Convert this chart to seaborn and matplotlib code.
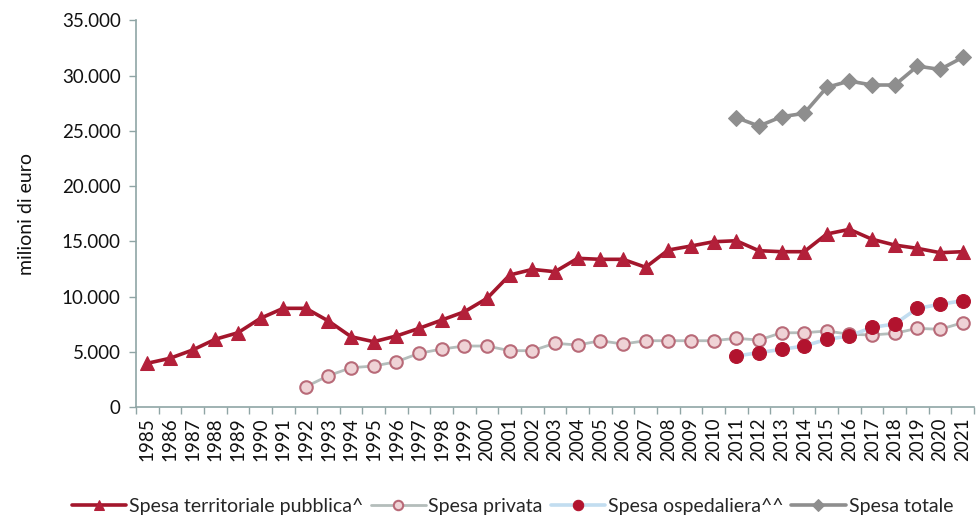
import matplotlib
matplotlib.use("Agg")
import matplotlib.pyplot as plt
import seaborn as sns
import numpy as np
import pandas as pd
from matplotlib.ticker import FuncFormatter, FixedLocator

years = list(range(1985, 2022))

territoriale = [3980, 4430, 5180, 6150, 6740, 8050, 8950, 8950, 7800, 6380,
                5930, 6450, 7140, 7890, 8640, 9850, 11960, 12470, 12260, 13470,
                13380, 13380, 12660, 14220, 14580, 14970, 15060, 14160, 14070, 14070,
                15670, 16090, 15190, 14670, 14370, 13980, 14070]

privata_years = list(range(1992, 2022))
privata = [1860, 2860, 3580, 3730, 4120, 4880, 5270, 5540, 5540, 5120,
           5120, 5790, 5630, 6020, 5720, 6020, 6020, 6020, 6020, 6240,
           6080, 6740, 6740, 6900, 6600, 6540, 6690, 7140, 7050, 7650]

recent_years = list(range(2011, 2022))
ospedaliera = [4640, 4940, 5240, 5540, 6150, 6450, 7230, 7530, 8950, 9310, 9640]
totale = [26200, 25430, 26270, 26580, 28930, 29500, 29140, 29140, 30850, 30550, 31640]

labels = ["Spesa territoriale pubblica^", "Spesa privata",
          "Spesa ospedaliera^^", "Spesa totale"]

sns.set_theme(style="white")
plt.rcParams['font.family'] = ['Lato', 'DejaVu Sans']

fig = plt.figure(figsize=(9.76, 5.18), dpi=100)
ax = fig.add_axes([0.1393, 0.2137, 0.8587, 0.7473])

df_t = pd.DataFrame({"anno": years, "valore": territoriale})
df_p = pd.DataFrame({"anno": privata_years, "valore": privata})
df_o = pd.DataFrame({"anno": recent_years, "valore": ospedaliera})
df_tot = pd.DataFrame({"anno": recent_years, "valore": totale})

sns.lineplot(data=df_t, x="anno", y="valore", ax=ax, color="#A3162C", lw=2.6,
             marker="^", markersize=10, markerfacecolor="#B3203A",
             markeredgecolor="#B3203A", label=labels[0], zorder=3)
sns.lineplot(data=df_p, x="anno", y="valore", ax=ax, color="#B4BDBB", lw=2.0,
             marker="o", markersize=9, markerfacecolor="#EFD3D6",
             markeredgecolor="#B86A78", markeredgewidth=1.5, label=labels[1], zorder=4)
sns.lineplot(data=df_o, x="anno", y="valore", ax=ax, color="#C2DDF0", lw=2.6,
             marker="o", markersize=10, markerfacecolor="#B2132E",
             markeredgecolor="#B2132E", label=labels[2], zorder=5)
sns.lineplot(data=df_tot, x="anno", y="valore", ax=ax, color="#8E8E8E", lw=2.6,
             marker="D", markersize=8, markerfacecolor="#8E8E8E",
             markeredgecolor="#8E8E8E", label=labels[3], zorder=3)

ax.set_xlim(1984.5, 2021.5)
ax.set_ylim(0, 35000)
ax.yaxis.set_major_locator(FixedLocator(np.arange(0, 35001, 5000)))
ax.yaxis.set_major_formatter(FuncFormatter(lambda v, p: f"{int(v):,}".replace(",", ".")))

ax.xaxis.set_major_locator(FixedLocator([y - 0.5 for y in years] + [years[-1] + 0.5]))
ax.xaxis.set_major_formatter(FuncFormatter(lambda v, p: ""))
ax.xaxis.set_minor_locator(FixedLocator(years))
ax.xaxis.set_minor_formatter(FuncFormatter(lambda v, p: str(int(round(v)))))

spine_col = "#8FA5A5"
for s in ["top", "right"]:
    ax.spines[s].set_visible(False)
for s in ["left", "bottom"]:
    ax.spines[s].set_color(spine_col)
    ax.spines[s].set_linewidth(1.2)

ax.tick_params(axis="y", which="major", direction="out", length=5, width=1,
               color=spine_col, labelsize=13.5, labelcolor="#111111", pad=6, left=True)
ax.tick_params(axis="x", which="major", direction="out", length=5, width=1,
               color=spine_col, bottom=True)
ax.tick_params(axis="x", which="minor", length=0, labelsize=13.5, labelcolor="#111111",
               labelrotation=90, pad=7, bottom=True)

ax.set_xlabel("")
ax.set_ylabel("milioni di euro", fontsize=14, color="#111111", labelpad=19)
ax.grid(False)

handles, labs = ax.get_legend_handles_labels()
ax.legend(handles, labs, loc="center", bbox_to_anchor=(0.525, 0.022),
          bbox_transform=fig.transFigure, ncol=4, frameon=False, fontsize=14,
          handlelength=2.8, handletextpad=0.15, columnspacing=0.4, borderaxespad=0,
          markerscale=0.75)

fig.savefig("out.png", dpi=100)
